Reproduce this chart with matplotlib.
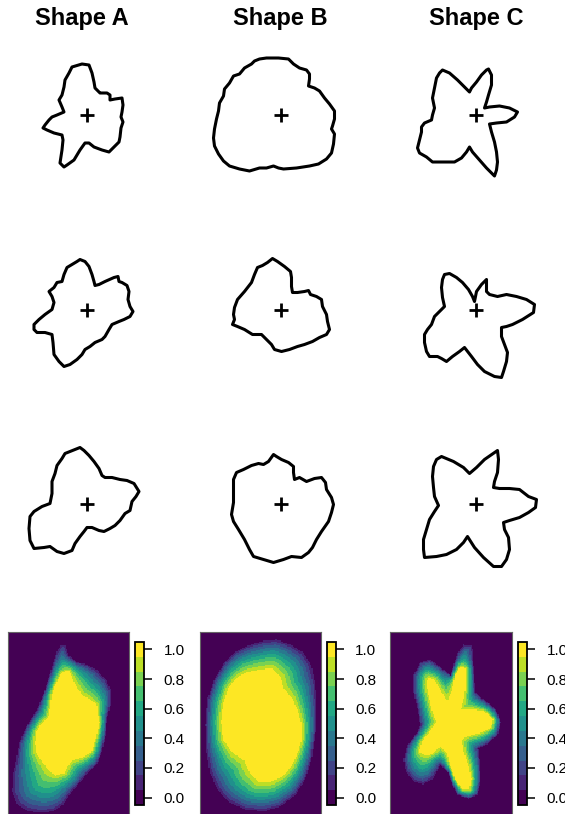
import numpy as np
import matplotlib
matplotlib.use('Agg')
import matplotlib.pyplot as plt
from matplotlib.colors import ListedColormap, BoundaryNorm
from matplotlib.path import Path

plt.rcParams['font.family'] = ['Liberation Sans', 'DejaVu Sans']

W, H = 565, 814

titles = ['Shape A', 'Shape B', 'Shape C']

# outlines, offsets from the centroid in pixels (y pointing down)
a1_x = [-15, -5, 2, 5, 7, 8, 12, 13, 20, 23, 23, 28, 35, 36, 35, 34, 36, 34, 33, 32, 27, 22, 15, 7, 2, -2, -7, -13, -20, -23, -27, -25, -24, -25, -33, -40, -44, -42, -38, -35, -30, -23, -25, -28, -25, -23, -22, -18]
a1_y = [-48, -51, -50, -42, -33, -27, -23, -22, -22, -20, -15, -16, -17, -10, -3, 2, 7, 13, 22, 27, 32, 37, 35, 32, 28, 28, 35, 45, 50, 52, 48, 35, 25, 20, 18, 15, 13, 10, 5, 2, 0, -3, -8, -15, -20, -28, -35, -42]
b1_x = [-21, -14, -2, 8, 13, 19, 26, 29, 29, 28, 34, 39, 44, 49, 54, 54, 52, 51, 54, 53, 51, 46, 38, 29, 16, 3, -2, -7, -14, -21, -31, -41, -51, -57, -62, -66, -67, -66, -64, -62, -61, -57, -56, -51, -47, -41, -36, -29, -26]
b1_y = [-56, -57, -57, -56, -51, -47, -45, -41, -36, -29, -27, -24, -17, -11, -4, 4, 11, 14, 19, 29, 38, 44, 49, 51, 53, 54, 53, 51, 53, 53, 56, 54, 51, 46, 39, 31, 23, 14, 4, -4, -12, -19, -26, -32, -39, -41, -47, -51, -54]
c1_x = [-33, -26, -18, -11, -6, -4, 1, 6, 11, 13, 16, 16, 13, 11, 9, 14, 24, 34, 42, 39, 31, 21, 14, 16, 19, 21, 22, 21, 19, 16, 11, 4, -3, -6, -9, -14, -21, -29, -36, -43, -49, -56, -58, -56, -54, -54, -51, -44, -43, -41, -43, -41, -39, -36]
c1_y = [-45, -42, -35, -28, -23, -27, -33, -40, -45, -46, -40, -30, -20, -13, -7, -8, -9, -7, -3, 2, 7, 8, 9, 17, 27, 37, 47, 55, 61, 58, 53, 45, 37, 32, 37, 43, 47, 47, 47, 47, 42, 38, 33, 25, 17, 12, 8, 5, 0, -7, -17, -27, -37, -42]

a2_x = [-7, -2, 2, 5, 7, 8, 12, 18, 27, 31, 32, 35, 40, 42, 41, 43, 46, 43, 37, 32, 25, 22, 18, 15, 8, 3, -2, -5, -10, -17, -23, -28, -33, -34, -35, -42, -50, -53, -53, -48, -42, -35, -33, -35, -38, -33, -30, -25, -23, -20, -15, -10]
a2_y = [-50, -48, -43, -35, -28, -24, -25, -28, -32, -33, -28, -27, -24, -18, -10, -3, 2, 7, 10, 12, 15, 20, 27, 30, 33, 37, 40, 45, 50, 55, 57, 52, 45, 33, 25, 23, 23, 20, 15, 10, 5, 0, -7, -13, -18, -22, -27, -28, -35, -42, -45, -48]
b2_x = [-8, -3, 4, 10, 11, 11, 12, 17, 24, 28, 30, 36, 41, 42, 46, 47, 49, 46, 39, 32, 24, 17, 9, 1, -6, -9, -14, -19, -28, -36, -43, -48, -46, -47, -46, -43, -36, -29, -26, -23, -18, -13]
b2_y = [-51, -48, -43, -38, -32, -23, -17, -17, -18, -19, -15, -13, -10, -3, 5, 12, 20, 25, 28, 32, 35, 37, 40, 42, 40, 35, 30, 25, 25, 20, 17, 15, 10, 5, -2, -10, -18, -27, -35, -42, -44, -47]
c2_x = [-31, -26, -19, -13, -7, -3, -1, 1, 6, 11, 11, 11, 14, 22, 31, 41, 51, 59, 58, 47, 37, 31, 26, 26, 29, 32, 31, 28, 26, 19, 9, 2, -4, -11, -16, -23, -29, -34, -38, -46, -49, -51, -51, -48, -44, -41, -36, -31, -33, -34, -33]
c2_y = [-35, -36, -32, -27, -20, -13, -8, -18, -25, -30, -25, -18, -15, -13, -15, -13, -10, -5, 3, 10, 15, 17, 18, 27, 35, 43, 52, 62, 68, 67, 62, 55, 47, 38, 42, 47, 52, 49, 47, 47, 42, 33, 25, 20, 15, 7, 2, -3, -12, -22, -30]

a3_x = [-17, -7, -3, 2, 7, 12, 15, 18, 25, 33, 40, 47, 52, 49, 45, 43, 38, 33, 28, 23, 17, 12, 5, 0, -3, -7, -12, -15, -23, -30, -37, -43, -53, -57, -58, -57, -53, -45, -37, -35, -35, -32, -30, -25, -22]
a3_y = [-52, -56, -53, -48, -42, -35, -28, -26, -26, -24, -23, -20, -12, -7, -2, 7, 10, 17, 22, 25, 28, 27, 24, 24, 28, 33, 40, 47, 50, 48, 43, 44, 45, 37, 25, 13, 8, 3, 0, -10, -22, -30, -38, -45, -50]
b3_x = [-7, -4, 1, 8, 13, 13, 14, 19, 26, 34, 41, 45, 46, 51, 53, 51, 48, 41, 36, 32, 28, 21, 11, 3, -7, -17, -27, -31, -36, -42, -47, -49, -47, -47, -47, -44, -37, -29, -22, -17, -12]
b3_y = [-49, -47, -44, -41, -37, -31, -24, -26, -22, -25, -26, -21, -14, -6, 1, 9, 18, 28, 36, 44, 49, 54, 53, 56, 59, 56, 53, 46, 36, 26, 18, 11, -1, -11, -24, -31, -34, -38, -40, -39, -42]
c3_x = [-34, -22, -12, -6, 1, 9, 22, 23, 22, 19, 18, 24, 34, 44, 53, 61, 60, 53, 44, 34, 28, 29, 33, 34, 31, 26, 18, 8, -1, -8, -12, -19, -29, -39, -51, -52, -52, -49, -46, -41, -37, -41, -42, -43, -42, -39]
c3_y = [-47, -42, -36, -30, -36, -44, -53, -44, -31, -22, -16, -15, -15, -14, -7, -4, 4, 9, 14, 17, 19, 26, 34, 46, 56, 63, 63, 54, 44, 33, 39, 46, 51, 53, 54, 46, 36, 26, 16, 8, 2, -7, -16, -27, -37, -44]

shapes = [
    [(a1_x, a1_y), (a2_x, a2_y), (a3_x, a3_y)],
    [(b1_x, b1_y), (b2_x, b2_y), (b3_x, b3_y)],
    [(c1_x, c1_y), (c2_x, c2_y), (c3_x, c3_y)],
]

# probability maps: outline of the p=1 core and of the p>0 region (pixels in the map box)
core_a_x = [58, 61, 64, 68, 73, 81, 88, 89, 91, 89, 86, 83, 73, 64, 59, 56, 48, 43, 39, 34, 29, 28, 29, 34, 41, 43, 44, 48, 51, 54]
core_a_y = [40, 40, 48, 57, 65, 68, 73, 82, 90, 100, 110, 120, 125, 127, 133, 140, 142, 138, 133, 127, 120, 110, 100, 92, 85, 75, 63, 53, 47, 42]
outer_a_x = [53, 58, 61, 69, 79, 89, 99, 104, 103, 99, 98, 94, 89, 81, 73, 64, 56, 46, 33, 19, 8, 3, 4, 8, 11, 19, 29, 36, 43, 48]
outer_a_y = [12, 13, 23, 30, 32, 37, 48, 60, 73, 87, 103, 120, 133, 140, 150, 160, 173, 180, 182, 180, 173, 160, 143, 127, 110, 93, 77, 60, 37, 20]
core_b_x = [57, 71, 79, 82, 91, 97, 101, 101, 97, 91, 82, 71, 59, 52, 46, 34, 24, 22, 24, 29, 37, 46]
core_b_y = [40, 38, 47, 58, 67, 80, 93, 107, 120, 133, 143, 148, 148, 140, 127, 120, 107, 90, 73, 57, 47, 42]
outer_b_x = [47, 64, 77, 91, 104, 112, 116, 117, 116, 112, 106, 96, 81, 64, 44, 27, 16, 9, 6, 5, 7, 14, 24, 34]
outer_b_y = [13, 8, 7, 12, 20, 33, 53, 77, 100, 127, 147, 163, 175, 180, 178, 170, 157, 140, 120, 93, 67, 47, 30, 20]
core_c_x = [38, 43, 50, 57, 62, 65, 70, 75, 75, 72, 68, 80, 93, 102, 100, 90, 77, 70, 72, 77, 80, 78, 72, 65, 60, 57, 50, 43, 37, 30, 32, 40, 47, 43, 40, 37]
core_c_y = [47, 48, 60, 73, 60, 43, 35, 37, 52, 68, 80, 78, 80, 87, 95, 100, 103, 107, 120, 133, 147, 157, 157, 147, 133, 120, 113, 120, 123, 120, 110, 100, 90, 80, 67, 53]
outer_c_x = [30, 40, 53, 60, 67, 73, 82, 83, 85, 93, 105, 110, 107, 97, 88, 90, 90, 87, 78, 67, 62, 57, 50, 43, 33, 23, 15, 13, 17, 27, 30, 27, 23, 23]
outer_c_y = [30, 27, 37, 43, 20, 12, 13, 33, 60, 67, 77, 90, 103, 112, 117, 133, 150, 163, 167, 163, 153, 140, 133, 147, 153, 150, 140, 127, 113, 100, 93, 77, 60, 43]

maps = [
    ((core_a_x, core_a_y), (outer_a_x, outer_a_y)),
    ((core_b_x, core_b_y), (outer_b_x, outer_b_y)),
    ((core_c_x, core_c_y), (outer_c_x, outer_c_y)),
]

cbar_ticks = [0.0, 0.2, 0.4, 0.6, 0.8, 1.0]

# layout (pixels)
title_cx = [82, 280.5, 476.5]
col_cx = [87, 280.5, 475.5]
row_cy = [115, 309.5, 503.5]
map_x = [(7.5, 128.5), (199.5, 320.5), (390, 511.5)]
cbar_x = [(135, 144), (326.5, 335.5), (518, 527)]
map_top, map_bot = 632, 816
box_w, box_h = 121, 184


def px_axes(fig, x0, y0, x1, y1):
    return fig.add_axes([x0 / W, 1 - y1 / H, (x1 - x0) / W, (y1 - y0) / H])


def edge_dist(px, py, xs, ys):
    x0 = np.asarray(xs, float)
    y0 = np.asarray(ys, float)
    dx = np.roll(x0, -1) - x0
    dy = np.roll(y0, -1) - y0
    t = ((px[..., None] - x0) * dx + (py[..., None] - y0) * dy) / (dx * dx + dy * dy)
    t = np.clip(t, 0, 1)
    return np.hypot(px[..., None] - x0 - t * dx, py[..., None] - y0 - t * dy).min(axis=-1)


def prob_grid(core, outer, nx=100, ny=152):
    gx = (np.arange(nx) + 0.5) * box_w / nx
    gy = (np.arange(ny) + 0.5) * box_h / ny
    X, Y = np.meshgrid(gx, gy)
    pts = np.column_stack([X.ravel(), Y.ravel()])
    in_core = Path(np.column_stack(core)).contains_points(pts).reshape(X.shape)
    in_out = Path(np.column_stack(outer)).contains_points(pts).reshape(X.shape)
    d_in = edge_dist(X, Y, *core)
    d_out = edge_dist(X, Y, *outer)
    t = d_out / (d_in + d_out)
    v = np.where(in_core, 1.0, np.where(in_out, t ** 0.8, 0.0))
    return np.round(v * 10) / 10


cmap = ListedColormap(plt.cm.viridis(np.linspace(0, 1, 11)))
norm = BoundaryNorm(np.linspace(-0.05, 1.05, 12), cmap.N)

fig = plt.figure(figsize=(W / 100, H / 100), dpi=100)

for j in range(3):
    fig.text(title_cx[j] / W, 1 - 19 / H, titles[j], ha='center', va='center',
             fontsize=17, fontweight='bold')
    for i in range(3):
        xs, ys = shapes[j][i]
        ax = px_axes(fig, col_cx[j] - 85, row_cy[i] - 85, col_cx[j] + 85, row_cy[i] + 85)
        ax.fill(xs, ys, facecolor='none', edgecolor='black', linewidth=2.2, joinstyle='round')
        ax.plot([0], [0], marker='+', color='black', markersize=10, markeredgewidth=2)
        ax.set_xlim(-85, 85)
        ax.set_ylim(85, -85)
        ax.axis('off')

    core, outer = maps[j]
    grid = prob_grid(core, outer)
    ax = px_axes(fig, map_x[j][0], map_top, map_x[j][1], map_bot)
    im = ax.imshow(grid, cmap=cmap, norm=norm, extent=[0, box_w, box_h, 0],
                   aspect='auto', interpolation='nearest')
    ax.set_xticks([])
    ax.set_yticks([])
    for s in ax.spines.values():
        s.set_color('#666666')
        s.set_linewidth(0.8)

    cax = px_axes(fig, cbar_x[j][0], 642, cbar_x[j][1], 805)
    cb = fig.colorbar(im, cax=cax, ticks=cbar_ticks, format='%.1f')
    cb.minorticks_off()
    cb.outline.set_linewidth(1.3)
    cb.outline.set_edgecolor('black')
    cax.tick_params(length=6, width=1.1, pad=8, labelsize=11)

plt.savefig('out.png', dpi=100)
